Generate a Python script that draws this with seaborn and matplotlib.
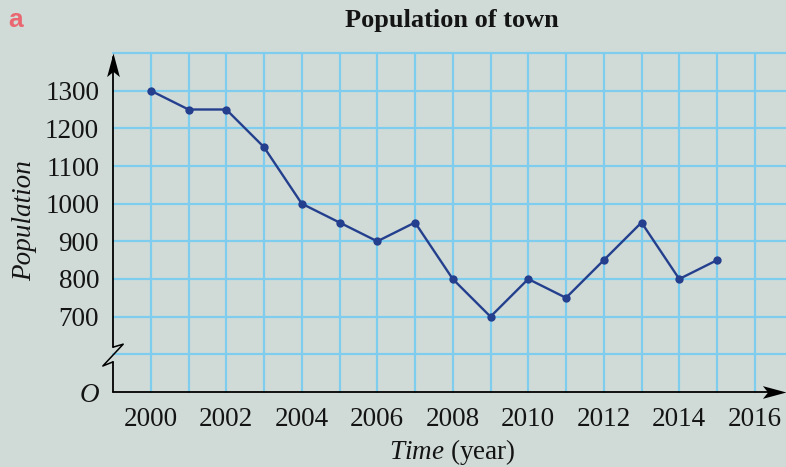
import matplotlib
matplotlib.use("Agg")
import matplotlib.pyplot as plt
from matplotlib.path import Path
import seaborn as sns
import pandas as pd

# Population of the town, one reading per year
years = [2000, 2001, 2002, 2003, 2004, 2005, 2006, 2007,
         2008, 2009, 2010, 2011, 2012, 2013, 2014, 2015]
population = [1300, 1250, 1250, 1150, 1000, 950, 900, 950,
              800, 700, 800, 750, 850, 950, 800, 850]

x_tick_values = [1999, 2000, 2002, 2004, 2006, 2008, 2010, 2012, 2014, 2016]
x_tick_labels = ["", "2000", "2002", "2004", "2006", "2008", "2010", "2012", "2014", "2016"]
y_tick_values = [500, 700, 800, 900, 1000, 1100, 1200, 1300]
y_tick_labels = ["O", "700", "800", "900", "1000", "1100", "1200", "1300"]

BG = "#d0dbd7"
GRID = "#7fcdee"
LINE = "#233f8e"
INK = "#141414"

sns.set_style("white")
plt.rcParams["font.family"] = ["Liberation Serif", "DejaVu Serif"]
plt.rcParams["mathtext.fontset"] = "custom"
plt.rcParams["mathtext.rm"] = "Liberation Serif"
plt.rcParams["mathtext.it"] = "Liberation Serif:italic"

df = pd.DataFrame({"year": years, "population": population})

fig = plt.figure(figsize=(7.86, 4.67), dpi=100, facecolor=BG)
W, H = 786, 467
x0_px, y0_px, ytop_px = 113, 392, 53
ax = fig.add_axes([x0_px / W, (H - y0_px) / H, (W - x0_px) / W, (y0_px - ytop_px) / H])
ax.set_facecolor(BG)

xmax = 1999 + (W - x0_px) / 37.75
ax.set_xlim(1999, xmax)
ax.set_ylim(500, 1400)

# light blue squared grid (one cell per year and per 100 people)
for gx in range(2000, 2017):
    ax.plot([gx, gx], [500, 1400], color=GRID, lw=1.6, zorder=1, clip_on=False)
for gy in range(600, 1500, 100):
    ax.plot([1999, xmax], [gy, gy], color=GRID, lw=1.6, zorder=1, clip_on=False)

sns.lineplot(data=df, x="year", y="population", ax=ax, color=LINE, lw=1.7,
             marker="o", markersize=6, markeredgewidth=0, zorder=4)

for s in ax.spines.values():
    s.set_visible(False)

# axes drawn as lines with arrow heads; y axis broken between O and 700
ax.plot([1999, xmax - 0.3], [500, 500], color="black", lw=1.3, zorder=5, clip_on=False)
ax.plot([1999, 1999], [500, 580], color="black", lw=1.3, zorder=5, clip_on=False)
ax.plot([1999, 1999], [619, 1390], color="black", lw=1.3, zorder=5, clip_on=False)
ax.plot([1999, 1999 - 0.27, 1999 + 0.27, 1999],
        [580, 569, 627, 619], color="black", lw=1.1, zorder=5, clip_on=False)

stealth_up = Path([(0, 0), (-0.27, -1), (0, -0.78), (0.27, -1), (0, 0)],
                  [Path.MOVETO, Path.LINETO, Path.LINETO, Path.LINETO, Path.CLOSEPOLY])
stealth_right = Path([(0, 0), (-1, 0.27), (-0.78, 0), (-1, -0.27), (0, 0)],
                     [Path.MOVETO, Path.LINETO, Path.LINETO, Path.LINETO, Path.CLOSEPOLY])
ax.plot([1999], [1400], marker=stealth_up, markersize=34, color="black",
        markeredgewidth=0, zorder=6, clip_on=False)
ax.plot([xmax], [500], marker=stealth_right, markersize=34, color="black",
        markeredgewidth=0, zorder=6, clip_on=False)

ax.set_xticks(x_tick_values)
ax.set_xticklabels(x_tick_labels)
ax.set_yticks(y_tick_values)
ax.set_yticklabels(y_tick_labels)
ax.tick_params(axis="both", which="major", length=5, width=1.2, color="black",
               labelsize=19.5, labelcolor=INK, direction="out")
ax.tick_params(axis="x", pad=6)
ax.tick_params(axis="y", pad=5)
ax.get_yticklabels()[0].set_fontstyle("italic")

ax.set_xlabel(r"$\mathit{Time}$ (year)", fontsize=19.5, color=INK)
ax.xaxis.set_label_coords(0.504, -0.132)
ax.set_ylabel("Population", fontsize=19.5, fontstyle="italic", color=INK)
ax.yaxis.set_label_coords(-0.113, 0.507)

fig.text(452 / W, 1 - 21 / H, "Population of town", fontsize=19, fontweight="bold",
         ha="center", va="center", color=INK)
fig.text(8 / W, 1 - 20 / H, "a", fontsize=19, fontweight="bold", color="#ea6670",
         family="Liberation Sans", ha="left", va="center")

fig.savefig("out.png", dpi=100, facecolor=BG)
